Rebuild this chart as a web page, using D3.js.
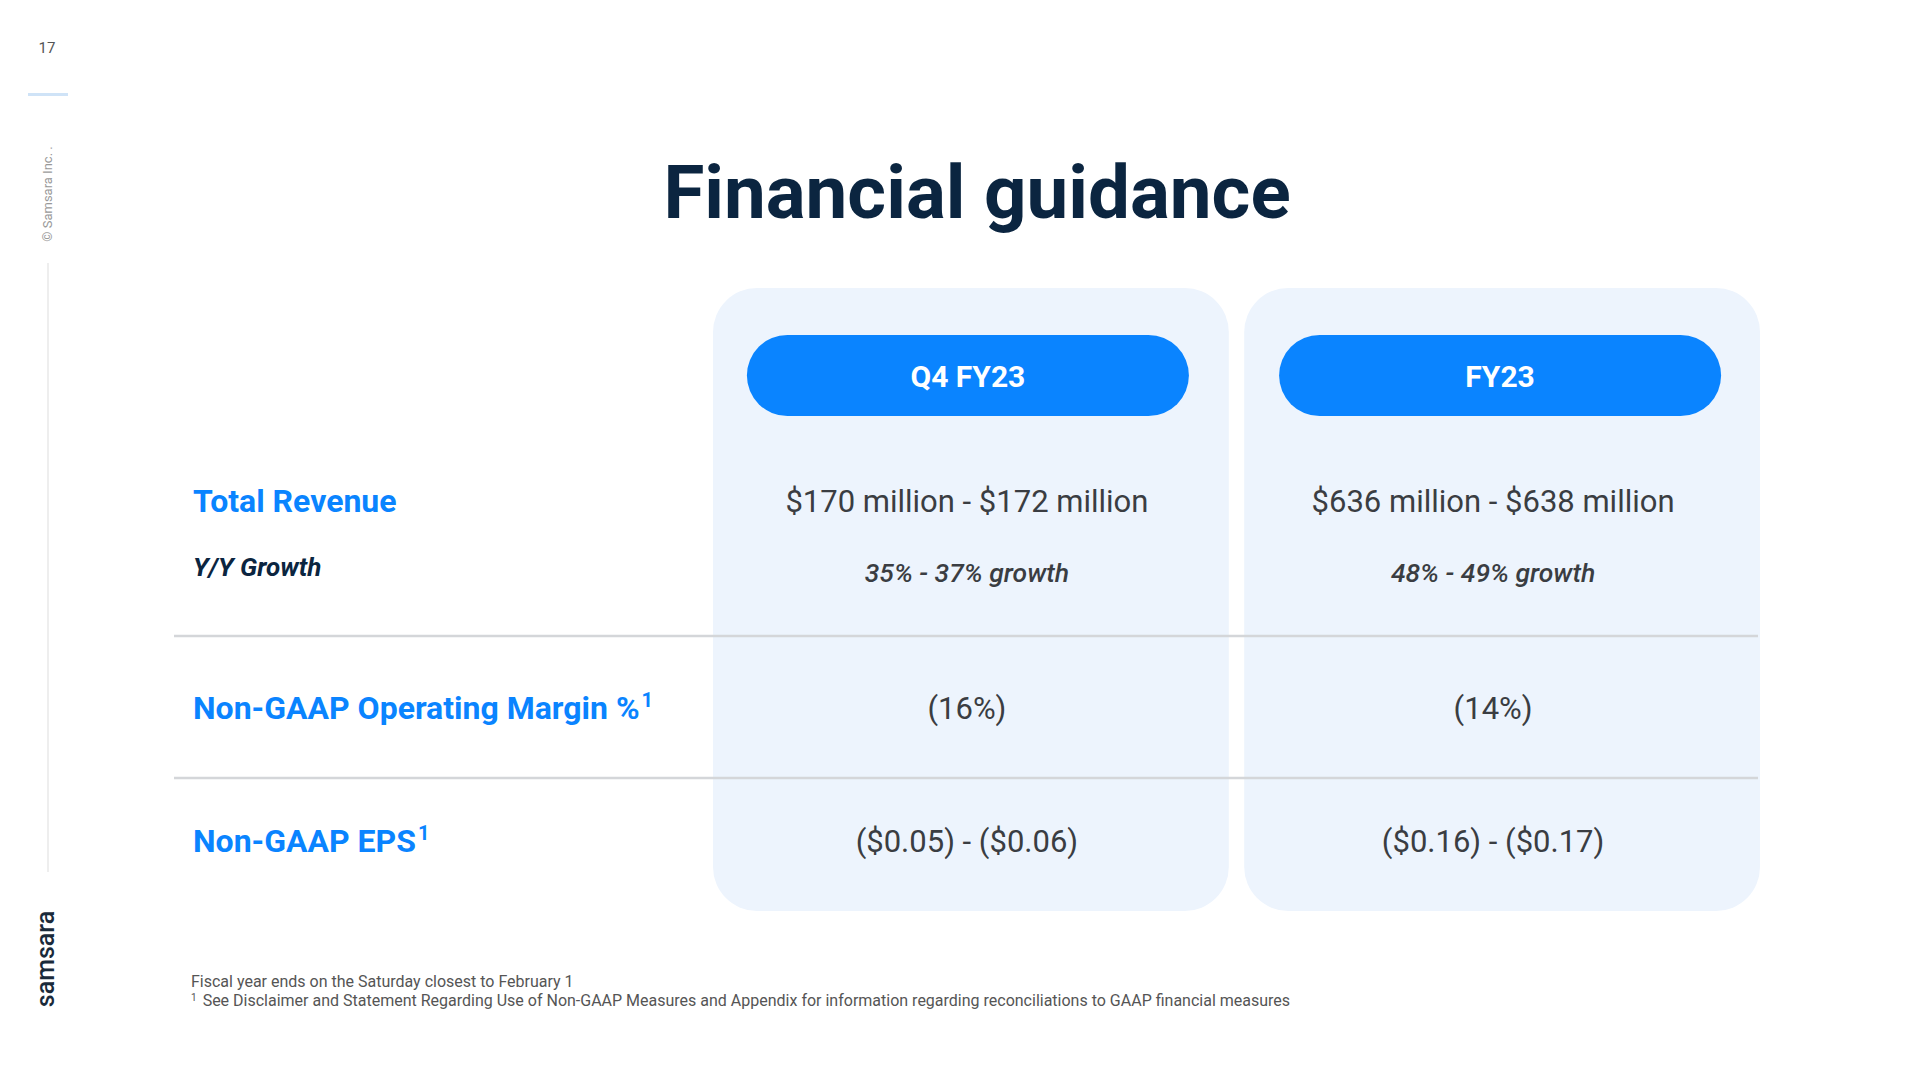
<!DOCTYPE html>
<html><head><meta charset="utf-8">
<script src="https://cdn.jsdelivr.net/npm/d3@7"></script>
<style>body{margin:0;background:#fff;}svg{display:block;font-family:Roboto,sans-serif;}</style>
</head><body><svg id="c" width="1920" height="1080"></svg>
<script>
const columns = ["Q4 FY23", "FY23"];
const metrics = ["Total Revenue", "Non-GAAP Operating Margin %", "Non-GAAP EPS"];
const metricSup = ["", "1", "1"];
const revenueRange = ["$170 million - $172 million", "$636 million - $638 million"];
const growthRange = ["35% - 37% growth", "48% - 49% growth"];
const marginValues = ["(16%)", "(14%)"];
const epsValues = ["($0.05) - ($0.06)", "($0.16) - ($0.17)"];
const footnotes = ["Fiscal year ends on the Saturday closest to February 1",
  "See Disclaimer and Statement Regarding Use of Non-GAAP Measures and Appendix for information regarding reconciliations to GAAP financial measures"];

const svg = d3.select("#c");
const navy = "#0b2540", blue = "#0a84ff", grey = "#3a3d42";

svg.append("text").attr("x",47).attr("y",53).attr("text-anchor","middle").attr("font-size",15).attr("fill","#555").text("17");
svg.append("rect").attr("x",28).attr("y",93).attr("width",40).attr("height",3).attr("fill","#cfe3f7");
svg.append("text").attr("transform","translate(52,194) rotate(-90)").attr("text-anchor","middle").attr("font-size",13).attr("fill","#999").text("© Samsara Inc. .");
svg.append("line").attr("x1",48).attr("x2",48).attr("y1",263).attr("y2",872).attr("stroke","#eee").attr("stroke-width",2);
svg.append("text").attr("transform","translate(54,959) rotate(-90)").attr("text-anchor","middle").attr("font-size",25).attr("font-weight",500).attr("fill","#1a2a3a").text("samsara");

svg.append("text").attr("x",977).attr("y",218).attr("text-anchor","middle").attr("font-size",74.5).attr("font-weight",700).attr("fill",navy).text("Financial guidance");

const x = d3.scaleBand().domain(columns).range([713,1760]).paddingInner(0.029);
const rowY = d3.scaleOrdinal().domain(metrics).range([512,719,852]);

svg.selectAll(".card").data(columns).join("rect")
  .attr("x",d=>x(d)).attr("y",288).attr("width",x.bandwidth()).attr("height",623)
  .attr("rx",44).attr("fill","#edf4fd");
const pw = 442;
const pc = d => x(d)+x.bandwidth()/2 + (d==="Q4 FY23"?-3:-2);
svg.selectAll(".pill").data(columns).join("rect")
  .attr("x",d=>pc(d)-pw/2).attr("y",335).attr("width",pw).attr("height",81)
  .attr("rx",40.5).attr("fill",blue);
svg.selectAll(".pillt").data(columns).join("text")
  .attr("x",pc).attr("y",387).attr("text-anchor","middle")
  .attr("font-size",30).attr("font-weight",700).attr("fill","#fff").text(d=>d);

[636,778].forEach(y=>svg.append("line").attr("x1",174).attr("x2",1758).attr("y1",y).attr("y2",y).attr("stroke","#d4d6d9").attr("stroke-width",2.5));

metrics.forEach((m,i)=>{
  const t = svg.append("text").attr("x",193).attr("y",rowY(m)).attr("font-size",32).attr("font-weight",700).attr("fill",blue);
  t.append("tspan").text(m);
  if(metricSup[i]) t.append("tspan").attr("dy",-12).attr("dx",2).attr("font-size",20).text(metricSup[i]);
});
svg.append("text").attr("x",193).attr("y",576).attr("font-size",26).attr("font-weight",700).attr("font-style","italic").attr("fill",navy).text("Y/Y Growth");

const cx = d => x(d)+x.bandwidth()/2 + (d==="Q4 FY23"?-4:-9);
const valRows = [[revenueRange, rowY(metrics[0]), 31, "normal"],[growthRange, 582, 26.5, "italic"],[marginValues, rowY(metrics[1]), 31, "normal"],[epsValues, rowY(metrics[2]), 31, "normal"]];
valRows.forEach(([vals,y,fs,st])=>{
  svg.selectAll(null).data(columns).join("text")
    .attr("x",cx).attr("y",y).attr("text-anchor","middle").attr("font-size",fs).attr("font-style",st)
    .attr("font-weight",st==="italic"?500:400).attr("fill",grey).text((d,i)=>vals[i]);
});

svg.append("text").attr("x",191).attr("y",987).attr("font-size",16).attr("fill","#555").text(footnotes[0]);
const f2 = svg.append("text").attr("x",191).attr("y",1006).attr("font-size",16).attr("fill","#555");
f2.append("tspan").attr("font-size",10).attr("dy",-5).text("1");
f2.append("tspan").attr("dy",5).attr("dx",6).text(footnotes[1]);
</script></body></html>
